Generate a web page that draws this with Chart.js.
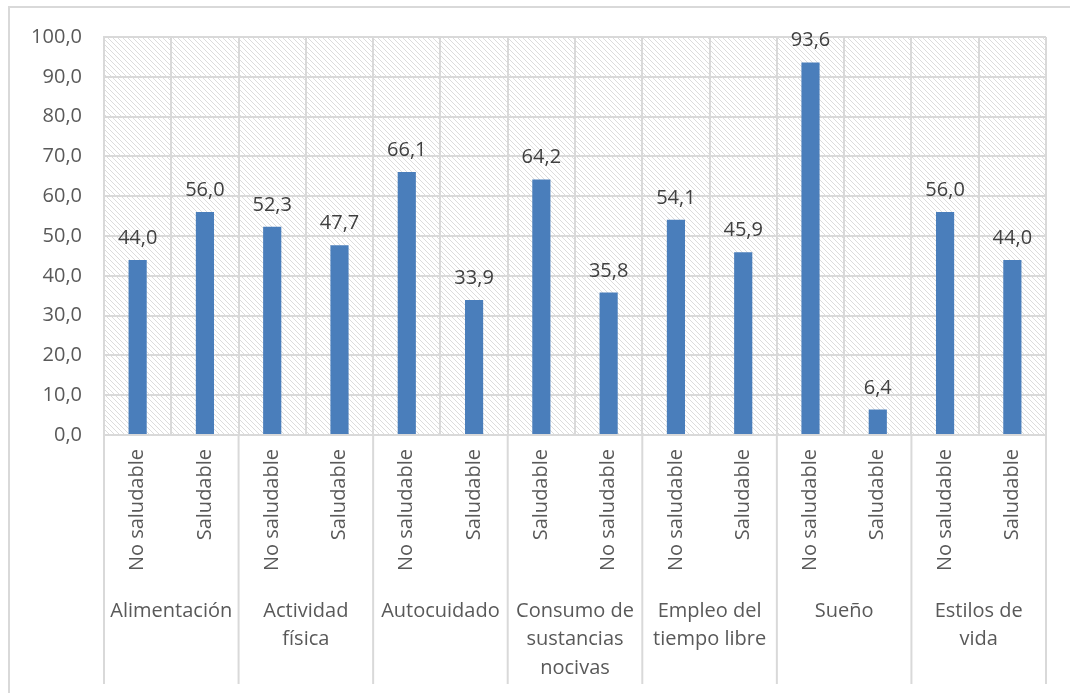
<!DOCTYPE html>
<html>
<head>
<meta charset="utf-8">
<script src="https://cdn.jsdelivr.net/npm/chart.js@4/dist/chart.umd.min.js"></script>
<style>
  html, body { margin: 0; padding: 0; background: #ffffff; }
  #wrap { width: 1070px; height: 693px; position: relative; }
</style>
</head>
<body>
<div id="wrap"><canvas id="myChart"></canvas></div>
<script>
// sub-categories, one bar each
var subLabels = [
  'No saludable', 'Saludable',
  'No saludable', 'Saludable',
  'No saludable', 'Saludable',
  'Saludable', 'No saludable',
  'No saludable', 'Saludable',
  'No saludable', 'Saludable',
  'No saludable', 'Saludable'
];
var percentages = [44.0, 56.0, 52.3, 47.7, 66.1, 33.9, 64.2, 35.8, 54.1, 45.9, 93.6, 6.4, 56.0, 44.0];

// dimension names, two bars per dimension
var groupLabels = [
  ['Alimentación'],
  ['Actividad', 'física'],
  ['Autocuidado'],
  ['Consumo de', 'sustancias', 'nocivas'],
  ['Empleo del', 'tiempo libre'],
  ['Sueño'],
  ['Estilos de', 'vida']
];
var barsPerGroup = 2;

var yTicks = [0, 10, 20, 30, 40, 50, 60, 70, 80, 90, 100];

var FONT = '"Open Sans", sans-serif';
var TEXT = '#595959';
var GRID = '#d9d9d9';

function formatValue(v) {
  return v.toFixed(1).replace('.', ',');
}

// diagonal hatch used behind the plot
function makeHatch() {
  var c = document.createElement('canvas');
  c.width = 5; c.height = 5;
  var g = c.getContext('2d');
  g.fillStyle = '#ffffff';
  g.fillRect(0, 0, 5, 5);
  g.strokeStyle = '#dcdcdc';
  g.lineWidth = 1;
  g.beginPath();
  g.moveTo(-1, -1); g.lineTo(6, 6);
  g.moveTo(-1, 4); g.lineTo(1, 6);
  g.moveTo(4, -1); g.lineTo(6, 1);
  g.stroke();
  return g.createPattern(c, 'repeat');
}

var backgroundPlugin = {
  id: 'background',
  beforeDraw: function(chart) {
    var ctx = chart.ctx;
    var a = chart.chartArea;
    ctx.save();
    ctx.fillStyle = '#ffffff';
    ctx.fillRect(0, 0, chart.width, chart.height);
    ctx.strokeStyle = GRID;
    ctx.lineWidth = 2;
    ctx.strokeRect(9, 7, chart.width + 20, chart.height + 20);
    ctx.fillStyle = makeHatch();
    ctx.fillRect(a.left, a.top, a.right - a.left, a.bottom - a.top);
    ctx.restore();
  }
};

// group separators below the axis, group names and value labels
var groupAxisPlugin = {
  id: 'groupAxis',
  afterDraw: function(chart) {
    var ctx = chart.ctx;
    var x = chart.scales.x;
    var a = chart.chartArea;
    var slot = (x.right - x.left) / subLabels.length;
    ctx.save();

    ctx.strokeStyle = GRID;
    ctx.lineWidth = 2;
    for (var g = 0; g <= groupLabels.length; g++) {
      var gx = x.left + g * barsPerGroup * slot;
      ctx.beginPath();
      ctx.moveTo(gx, a.bottom);
      ctx.lineTo(gx, 684);
      ctx.stroke();
    }

    ctx.fillStyle = TEXT;
    ctx.font = '20px ' + FONT;
    ctx.textAlign = 'center';
    ctx.textBaseline = 'middle';
    groupLabels.forEach(function(lines, i) {
      var cx = x.left + (i + 0.5) * barsPerGroup * slot;
      lines.forEach(function(line, j) {
        ctx.fillText(line, cx, 611 + j * 28.5);
      });
    });

    var meta = chart.getDatasetMeta(0);
    ctx.fillStyle = '#404040';
    ctx.textBaseline = 'alphabetic';
    meta.data.forEach(function(bar, i) {
      ctx.fillText(formatValue(percentages[i]), bar.x, bar.y - 16);
    });
    ctx.restore();
  }
};

var chart = new Chart(document.getElementById('myChart'), {
  type: 'bar',
  data: {
    labels: subLabels,
    datasets: [{
      data: percentages,
      backgroundColor: '#4a7ebb',
      borderWidth: 0,
      barPercentage: 0.27,
      categoryPercentage: 1
    }]
  },
  options: {
    responsive: true,
    maintainAspectRatio: false,
    animation: false,
    events: [],
    layout: {
      padding: { top: 37, right: 24, bottom: 9, left: 0 }
    },
    scales: {
      x: {
        offset: true,
        grid: {
          offset: true,
          color: GRID,
          lineWidth: 2,
          drawTicks: false
        },
        border: { color: GRID, width: 2 },
        ticks: {
          minRotation: 90,
          maxRotation: 90,
          autoSkip: false,
          padding: 14,
          color: TEXT,
          font: { family: FONT, size: 20 }
        },
        afterFit: function(scale) {
          scale.height = 249;
        }
      },
      y: {
        min: 0,
        max: 100,
        afterBuildTicks: function(scale) {
          scale.ticks = yTicks.map(function(v) { return { value: v }; });
        },
        grid: {
          color: GRID,
          lineWidth: 2,
          drawTicks: false
        },
        border: { color: GRID, width: 2 },
        ticks: {
          padding: 22,
          color: TEXT,
          font: { family: FONT, size: 20 },
          callback: function(value) { return formatValue(value); }
        },
        afterFit: function(scale) {
          scale.width = 104;
        }
      }
    },
    plugins: {
      legend: { display: false },
      tooltip: { enabled: false }
    }
  },
  plugins: [backgroundPlugin, groupAxisPlugin]
});
</script>
</body>
</html>
